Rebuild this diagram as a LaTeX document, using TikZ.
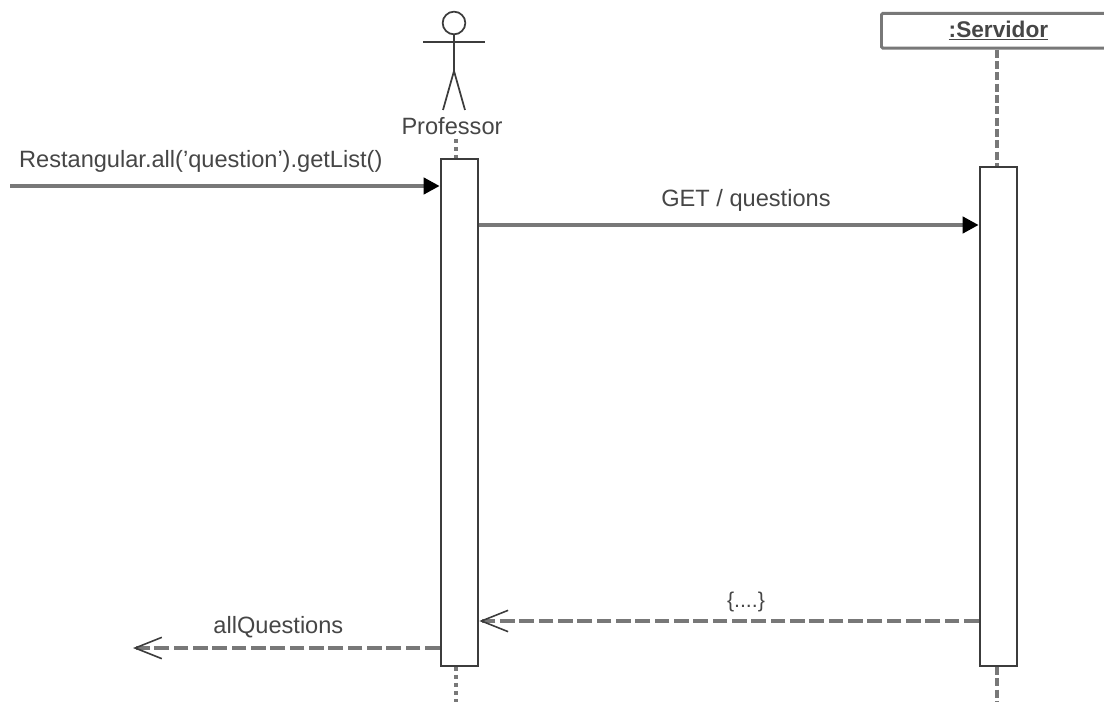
\documentclass[tikz,border=0pt]{standalone}
\usepackage{fontspec}
\setmainfont{Liberation Sans}
\usetikzlibrary{arrows.meta, positioning, calc}

\begin{document}
\begin{tikzpicture}[x=0.75pt, y=-0.75pt, font=\fontsize{17.7}{20}\selectfont,
    wire/.style={draw=seqgray, line width=3pt},
    bar/.style={draw=seqdark, line width=1.7pt, fill=white, minimum width=28pt, inner sep=0pt, anchor=north},
    stick/.style={draw=seqdark, line width=1.3pt},
    call/.style={wire, -{Triangle[length=12pt, width=12pt, color=black]}},
    reply/.style={wire, dash pattern=on 11pt off 3.5pt, -{Straight Barb[length=20pt, width=16pt, color=seqdark, line width=1.2pt]}},
    lifedash/.style={wire, dash pattern=on 6pt off 2.5pt},
    lifedot/.style={wire, dash pattern=on 3pt off 3pt},
    msg/.style={text=seqtext, inner sep=0pt}
]

% Colores
\definecolor{seqgray}{RGB}{120, 120, 120}
\definecolor{seqdark}{RGB}{60, 60, 60}
\definecolor{seqtext}{RGB}{70, 70, 70}

\useasboundingbox (0, 0) rectangle (1104, 702);

% Actor
\node[circle, stick, minimum size=17pt, inner sep=0pt] (head) at (454, 23) {};
\coordinate (armL) at (423, 42);
\coordinate (armR) at (485, 42);
\coordinate (hip) at (454, 71);
\coordinate (legL) at (443, 110);
\coordinate (legR) at (465, 110);
\draw[stick] (armL) -- (armR);
\draw[stick] (head) -- (hip);
\draw[stick] (legL) -- (hip) -- (legR);
\node[msg] (professor) at (452, 126) {Professor};

% Servidor
\node[draw=seqgray, line width=2.2pt, fill=white, rounded corners=1pt, minimum width=175.5pt, minimum height=26pt,
    inner sep=0pt, anchor=north west, text=seqtext, font=\fontsize{17}{20}\selectfont\bfseries] (servidor) at (880, 12) {\underline{:Servidor}};

% Barras de activacion
\node[bar, minimum height=380pt] (barP) at (459.5, 158) {};
\node[bar, minimum height=374pt] (barS) at (998.5, 166) {};

% Lineas de vida
\coordinate (topP) at (456, 139);
\coordinate (endP) at (456, 702);
\coordinate (endS) at (997, 702);
\draw[lifedot] (topP) -- (barP.north -| topP);
\draw[lifedot] (barP.south -| endP) -- (endP);
\draw[lifedash] (servidor.south -| endS) -- (barS.north -| endS);
\draw[lifedash] (barS.south -| endS) -- (endS);

% Mensajes
\coordinate (start) at (10, 186);
\coordinate (get) at (0, 225);
\coordinate (back) at (0, 621);
\coordinate (stop) at (133, 648);
\draw[call] (start) -- (start -| barP.west) node[msg, pos=0.444, above=9pt] {Restangular.all('question').getList()};
\draw[call] (barP.east |- get) -- (barS.west |- get) node[msg, pos=0.534, above=8.5pt] {GET / questions};
\draw[reply] (barS.west |- back) -- (barP.east |- back) node[msg, pos=0.466, above=5pt, font=\fontsize{16}{18}\selectfont] {\{....\}};
\draw[reply] (barP.west |- stop) -- (stop) node[msg, pos=0.526, above=6pt] {allQuestions};

\end{tikzpicture}
\end{document}
